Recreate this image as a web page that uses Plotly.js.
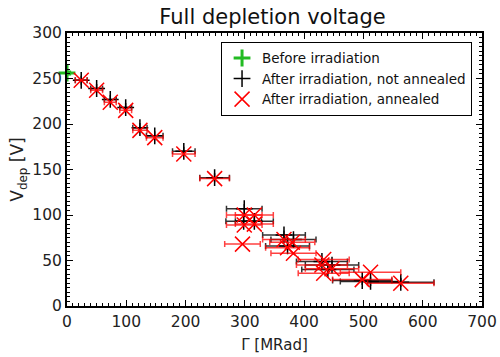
<!DOCTYPE html>
<html><head><meta charset="utf-8">
<script src="https://cdn.plot.ly/plotly-3.0.1.min.js"></script>
<style>html,body{margin:0;padding:0;background:#fff}#chart{width:500px;height:357px}</style>
</head><body><div id="chart"></div>
<script>
// Before irradiation
const beforeX = [0];
const beforeV = [256];
const beforeXErr = [7];
const beforeVErr = [5];

// After irradiation, not annealed
const notAnnX = [24, 50, 73, 99, 123, 148, 197, 249, 299, 298, 316, 366, 382, 372, 430, 447, 440, 498, 512, 563];
const notAnnV = [248, 239, 227, 218, 196, 187, 170, 141, 107, 93, 93, 78, 73, 66, 49, 45, 40, 28, 27, 26];
const notAnnXErr = [10, 10, 10, 10, 12, 14, 19, 25, 30, 30, 32, 36, 38, 37, 43, 45, 44, 50, 51, 56];
const notAnnVErr = [5, 5, 5, 5, 5, 5, 5, 5, 5, 5, 5, 5, 5, 5, 5, 5, 5, 5, 5, 5];

// After irradiation, annealed
const annX = [24, 50, 73, 99, 123, 148, 197, 249, 299, 316, 299, 316, 296, 366, 380, 372, 382, 430, 447, 433, 433, 512, 498, 563];
const annV = [248, 237, 224, 215, 193, 185, 167, 140, 100, 100, 89, 90, 68, 73, 70, 64, 58, 45, 41, 36, 51, 37, 29, 25];
const annXErr = [10, 10, 10, 10, 12, 14, 19, 25, 30, 32, 30, 32, 30, 36, 38, 37, 38, 43, 45, 43, 43, 51, 50, 56];

const xTicks = [0, 100, 200, 300, 400, 500, 600, 700];
const yTicks = [0, 50, 100, 150, 200, 250, 300];

const traces = [
  {
    name: 'Before irradiation', type: 'scatter', mode: 'markers', cliponaxis: false,
    x: beforeX, y: beforeV,
    error_x: {type: 'data', array: beforeXErr, color: '#22bb22', thickness: 5, width: 0},
    error_y: {type: 'data', array: beforeVErr, color: '#22bb22', thickness: 2, width: 0},
    marker: {symbol: 'cross-thin-open', size: 12, color: '#22bb22', line: {color: '#22bb22', width: 3}}
  },
  {
    name: 'After irradiation, not annealed', type: 'scatter', mode: 'markers',
    x: notAnnX, y: notAnnV,
    error_x: {type: 'data', array: notAnnXErr, color: 'rgba(0,0,0,0.8)', thickness: 1.5, width: 3},
    error_y: {type: 'data', array: notAnnVErr, color: 'rgba(0,0,0,0.8)', thickness: 1.5, width: 0},
    marker: {symbol: 'cross-thin-open', size: 12, color: '#000', line: {color: '#000', width: 1.5}}
  },
  {
    name: 'After irradiation, annealed', type: 'scatter', mode: 'markers',
    x: annX, y: annV,
    error_x: {type: 'data', array: annXErr, color: 'rgba(255,0,0,0.75)', thickness: 1.5, width: 3},
    marker: {symbol: 'x-thin-open', size: 15, color: '#ff0000', line: {color: 'rgba(255,0,0,0.85)', width: 1.5}}
  }
];

const axisCommon = {
  showline: true, linecolor: '#000', linewidth: 2, mirror: 'ticks',
  ticks: 'inside', ticklen: 6, tickcolor: '#000', tickwidth: 1,
  showgrid: false, zeroline: false,
  tickfont: {family: 'DejaVu Sans', size: 15.5, color: '#222'}
};

const layout = {
  width: 500, height: 357,
  margin: {l: 67, r: 18, t: 33, b: 51},
  paper_bgcolor: '#fff', plot_bgcolor: '#fff',
  font: {family: 'DejaVu Sans', color: '#222'},
  title: {text: 'Full depletion voltage', x: 0.545, xanchor: 'center', y: 0.952, yanchor: 'middle',
          font: {family: 'DejaVu Sans', size: 21, color: '#111'}},
  xaxis: Object.assign({}, axisCommon, {
    range: [0, 700], tickvals: xTicks, ticktext: xTicks.map(String),
    minor: {dtick: 10, ticks: 'inside', ticklen: 3, tickcolor: '#000'},
    title: {text: 'Γ [MRad]', font: {family: 'DejaVu Sans', size: 15, color: '#222'}, standoff: 10}
  }),
  yaxis: Object.assign({}, axisCommon, {
    range: [0, 300], tickvals: yTicks, ticktext: yTicks.map(String),
    minor: {dtick: 5, ticks: 'inside', ticklen: 3, tickcolor: '#000'},
    title: {text: 'V<sub>dep</sub> [V]', font: {family: 'DejaVu Sans', size: 17, color: '#222'}, standoff: 4}
  }),
  showlegend: true,
  legend: {
    x: 0.976, xanchor: 'right', y: 0.968, yanchor: 'top',
    bgcolor: '#fff', bordercolor: '#000', borderwidth: 1,
    font: {family: 'DejaVu Sans', size: 13.5, color: '#111'},
    tracegroupgap: 0, itemwidth: 30
  }
};

Plotly.newPlot('chart', traces, layout, {displayModeBar: false, staticPlot: true});
</script>
</body></html>
